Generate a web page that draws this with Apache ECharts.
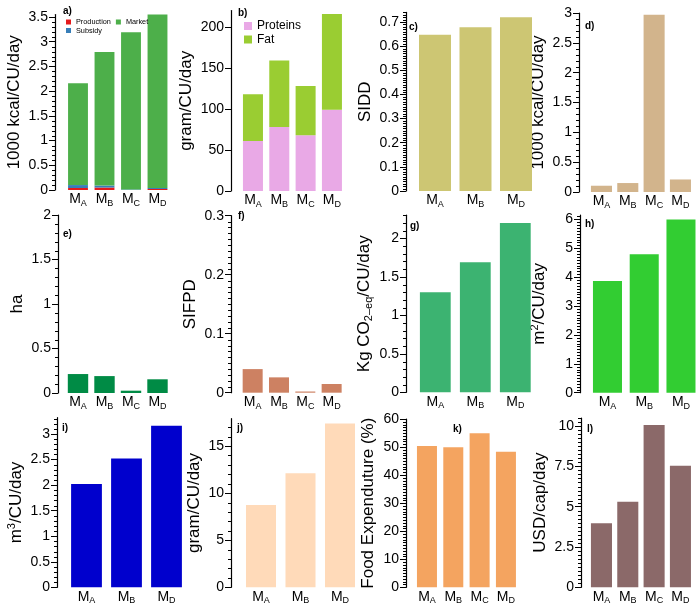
<!DOCTYPE html>
<html><head><meta charset="utf-8">
<script src="https://cdn.jsdelivr.net/npm/echarts@6/dist/echarts.min.js"></script>
<style>html,body{margin:0;padding:0;background:#fff}#c{width:700px;height:606px}</style>
</head><body><div id="c"></div>
<script>
// ---------- DATA ----------
const catsFour = ['MA', 'MB', 'MC', 'MD'];
const catsThree = ['MA', 'MB', 'MD'];

const aProduction = [0.04, 0.05, 0.0, 0.02];
const aSubsidy = [0.06, 0.04, 0.01, 0.02];
const aMarket = [2.06, 2.70, 3.18, 3.51];
const bProteins = [61, 78, 68, 99];
const bFat = [57, 81, 60, 117];
const cSIDD = [0.647, 0.678, 0.72];
const dKcal = [0.105, 0.15, 2.97, 0.21];
const eHa = [0.213, 0.19, 0.026, 0.154];
const fSIFPD = [0.040, 0.026, 0.002, 0.0147];
const gCO2 = [1.30, 1.69, 2.20];
const hLand = [3.87, 4.79, 5.99];
const iWater = [2.02, 2.52, 3.16];
const jGram = [8.74, 12.1, 17.4];
const kFoodExp = [50.4, 49.9, 54.9, 48.3];
const lUSD = [3.97, 5.31, 10.06, 7.54];

const aTicks = [0, 0.5, 1, 1.5, 2, 2.5, 3, 3.5];
const bTicks = [0, 50, 100, 150, 200];
const cTicks = [0, 0.1, 0.2, 0.3, 0.4, 0.5, 0.6, 0.7];
const dTicks = [0, 0.5, 1, 1.5, 2, 2.5, 3];
const eTicks = [0, 0.5, 1, 1.5, 2];
const fTicks = [0, 0.1, 0.2, 0.3];
const gTicks = [0, 0.5, 1, 1.5, 2];
const hTicks = [0, 1, 2, 3, 4, 5, 6];
const iTicks = [0, 0.5, 1, 1.5, 2, 2.5, 3];
const jTicks = [0, 5, 10, 15];
const kTicks = [0, 10, 20, 30, 40, 50, 60];
const lTicks = [0, 2.5, 5, 7.5, 10];

// ---------- LAYOUT ----------
const FONT = 'Liberation Sans, Arial, Helvetica, sans-serif';
const panels = [
  {key:'a', cats:catsFour, stack:true, ticks:aTicks, minor:0.1, max:3.55, gl:64.75, gw:106, ax:55, top:14.5, bot:190, gap:23, bw:'75%', name:'1000 kcal/CU/day',
   series:[{name:'Production', data:aProduction, color:'#e41a1c'}, {name:'Subsidy', data:aSubsidy, color:'#377eb8'}, {name:'Market', data:aMarket, color:'#4daf4a'}]},
  {key:'b', cats:catsFour, stack:true, ticks:bTicks, minor:null, max:220, gl:239.8, gw:105.3, ax:231, top:10.6, bot:191, gap:29.5, bw:'76%', name:'gram/CU/day',
   series:[{name:'Proteins', data:bProteins, color:'#e9a9e6'}, {name:'Fat', data:bFat, color:'#9acd32'}]},
  {key:'c', cats:catsThree, ticks:cTicks, minor:0.01, max:0.74, gl:414.75, gw:121.5, ax:406, top:12.4, bot:191, gap:31, bw:'79%', name:'SIDD',
   series:[{name:'SIDD', data:cSIDD, color:'#cdc673'}]},
  {key:'d', cats:catsFour, ticks:dTicks, minor:0.1, max:3, gl:588.3, gw:105.3, ax:579, top:13, bot:192, gap:27, bw:'80%', name:'1000 kcal/CU/day',
   series:[{name:'d', data:dKcal, color:'#d2b48c'}]},
  {key:'e', cats:catsFour, ticks:eTicks, minor:0.1, max:2, gl:64.75, gw:106, ax:58, top:215, bot:393, gap:30, bw:'77%', name:'ha',
   series:[{name:'e', data:eHa, color:'#008b45'}]},
  {key:'f', cats:catsFour, ticks:fTicks, minor:0.01, max:0.3, gl:239.5, gw:105.3, ax:231, top:215.7, bot:392.7, gap:31, bw:'76%', name:'SIFPD',
   series:[{name:'f', data:fSIFPD, color:'#cd8162'}]},
  {key:'g', cats:catsThree, ticks:gTicks, minor:0.1, max:2.3, gl:415.3, gw:120, ax:406, top:215.2, bot:392.3, gap:32, bw:'77%', name:'Kg CO{s|2\u2013eq}/CU/day',
   series:[{name:'g', data:gCO2, color:'#3cb371'}]},
  {key:'h', cats:catsThree, ticks:hTicks, minor:0.1, max:6.15, gl:589.1, gw:110.25, ax:580, top:215, bot:392.7, gap:31, bw:'79%', name:'m{p|2}/CU/day',
   series:[{name:'h', data:hLand, color:'#32cd32'}]},
  {key:'i', cats:catsThree, ticks:iTicks, minor:0.1, max:3.32, gl:66.5, gw:120, ax:57, top:417.7, bot:587.3, gap:26.5, bw:'77%', name:'m{p|3}/CU/day',
   series:[{name:'i', data:iWater, color:'#0000cd'}]},
  {key:'j', cats:catsThree, ticks:jTicks, minor:1, max:17.9, gl:241.25, gw:118.5, ax:231, top:418.7, bot:587.3, gap:27, bw:'76%', name:'gram/CU/day',
   series:[{name:'j', data:jGram, color:'#ffdab9'}]},
  {key:'k', cats:catsFour, ticks:kTicks, minor:1, max:60, gl:413.8, gw:105.3, ax:406, top:419, bot:587.3, gap:28, bw:'76%', name:'Food Expenduture (%)',
   series:[{name:'k', data:kFoodExp, color:'#f4a460'}]},
  {key:'l', cats:catsFour, ticks:lTicks, minor:0.25, max:10.5, gl:588.3, gw:105.3, ax:581, top:418, bot:587.3, gap:29.5, bw:'80%', name:'USD/cap/day',
   series:[{name:'l', data:lUSD, color:'#8b6969'}]}
];

const panelLabels = [
  {t:'a)', x:63, y:6}, {t:'b)', x:238, y:8}, {t:'c)', x:409, y:22}, {t:'d)', x:585, y:21},
  {t:'e)', x:63, y:229}, {t:'f)', x:238, y:211}, {t:'g)', x:410, y:221}, {t:'h)', x:585, y:219},
  {t:'i)', x:62, y:423}, {t:'j)', x:237, y:423}, {t:'k)', x:453, y:424}, {t:'l)', x:587, y:424}
];

function stepValues(max, step) {
  const out = [];
  const n = Math.floor(max / step + 1e-9);
  for (let i = 0; i <= n; i++) out.push(+(i * step).toFixed(6));
  return out;
}

// minor ticks of the value axis, positioned through the axis scale (api.coord)
function minorTickSeries(gi, values, offset) {
  return {
    type: 'custom', xAxisIndex: gi, yAxisIndex: gi, silent: true, clip: false, z: 5,
    data: values.map(v => [0, v]),
    renderItem: (params, api) => {
      const y = Math.round(api.coord([0, api.value(1)])[1]) + 0.5;
      const x0 = Math.round(params.coordSys.x - offset) + 0.5;
      return {type: 'line', shape: {x1: x0 - 3.5, y1: y, x2: x0, y2: y},
              style: {stroke: '#000', lineWidth: 1}};
    }
  };
}

const grid = [], xAxis = [], yAxis = [], series = [];
panels.forEach((p, gi) => {
  grid.push({left: p.gl, top: p.top, width: p.gw, height: p.bot - p.top, containLabel: false});
  xAxis.push({
    gridIndex: gi, type: 'category', data: p.cats,
    axisLine: {show: false}, axisTick: {show: false}, splitLine: {show: false},
    axisLabel: {
      margin: 1, interval: 0, color: '#000',
      formatter: v => '{m|M}{s|' + v.slice(1) + '}',
      rich: {
        m: {fontSize: 14, lineHeight: 17, fontFamily: FONT, color: '#000'},
        s: {fontSize: 9, lineHeight: 9, verticalAlign: 'bottom', fontFamily: FONT, color: '#000'}
      }
    }
  });
  yAxis.push({
    gridIndex: gi, type: 'value', position: 'left', offset: p.gl - p.ax, min: 0, max: p.max,
    axisLine: {show: true, lineStyle: {color: '#000', width: 1.2}},
    axisTick: {show: true, length: 6, customValues: p.ticks, lineStyle: {color: '#000', width: 1}},
    axisLabel: {customValues: p.ticks, fontSize: 14, color: '#000', margin: 7, fontFamily: FONT},
    splitLine: {show: false},
    name: p.name, nameLocation: 'middle', nameGap: p.gap,
    nameTextStyle: {fontSize: 17, color: '#000', fontFamily: FONT, lineHeight: 20,
      rich: {
        s: {fontSize: 11, lineHeight: 11, verticalAlign: 'bottom', fontFamily: FONT, color: '#000'},
        p: {fontSize: 11, lineHeight: 11, verticalAlign: 'top', fontFamily: FONT, color: '#000'}
      }}
  });
  p.series.forEach(s => {
    series.push({
      type: 'bar', name: s.name, xAxisIndex: gi, yAxisIndex: gi, data: s.data,
      stack: p.stack ? ('st' + p.key) : undefined,
      barWidth: p.bw, itemStyle: {color: s.color}, silent: true
    });
  });
  if (p.minor) {
    const majors = new Set(p.ticks.map(v => v.toFixed(6)));
    const mv = stepValues(p.max, p.minor).filter(v => !majors.has(v.toFixed(6)));
    series.push(minorTickSeries(gi, mv, p.gl - p.ax));
  }
});

const legTxt = {fontSize: 7.3, color: '#000', fontFamily: FONT};
const legend = [
  {left: 66, top: 18.5, padding: 0, itemWidth: 5, itemHeight: 5, itemGap: 5, icon: 'rect', data: ['Production', 'Market'], textStyle: legTxt, selectedMode: false},
  {left: 66, top: 27, padding: 0, itemWidth: 5, itemHeight: 5, itemGap: 5, icon: 'rect', data: ['Subsidy'], textStyle: legTxt, selectedMode: false},
  {left: 244, top: 20, padding: 0, itemWidth: 8, itemHeight: 8, itemGap: 5, icon: 'rect', data: ['Proteins'], textStyle: {fontSize: 12, color: '#000', fontFamily: FONT}, selectedMode: false},
  {left: 244, top: 33.5, padding: 0, itemWidth: 8, itemHeight: 8, itemGap: 5, icon: 'rect', data: ['Fat'], textStyle: {fontSize: 12, color: '#000', fontFamily: FONT}, selectedMode: false}
];

const graphic = panelLabels.map(l => ({
  type: 'text', left: l.x, top: l.y,
  style: {text: l.t, font: 'bold 10px ' + FONT, fill: '#000'}
}));

const chart = echarts.init(document.getElementById('c'), null, {renderer: 'canvas'});
chart.setOption({
  animation: false, backgroundColor: '#fff',
  grid, xAxis, yAxis, series, legend, graphic
});
</script></body></html>
